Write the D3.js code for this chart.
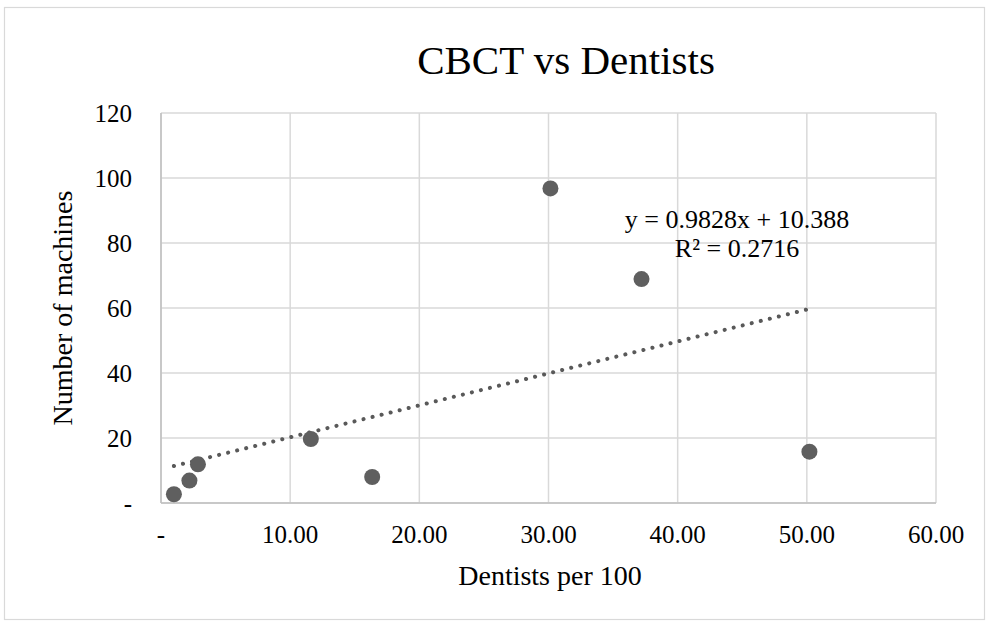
<!DOCTYPE html>
<html>
<head>
<meta charset="utf-8">
<script src="https://cdn.jsdelivr.net/npm/d3@7"></script>
<style>
  html, body { margin: 0; padding: 0; background: #fff; }
  svg { display: block; font-family: "Liberation Serif", "Times New Roman", serif; }
</style>
</head>
<body>
<svg id="chart" width="990" height="624"></svg>
<script>
// Dentists per 100 vs number of CBCT machines
const dentists = [1.0, 2.2, 2.86, 11.6, 16.35, 30.15, 37.2, 50.2];
const machines = [2.7, 6.9, 11.9, 19.7, 8.0, 96.8, 68.9, 15.8];
const xTicks = [0, 10, 20, 30, 40, 50, 60];
const yTicks = [0, 20, 40, 60, 80, 100, 120];
const trendSlope = 0.9828;
const trendIntercept = 10.388;
const rSquared = 0.2716;

const svg = d3.select("#chart");
const W = 990, H = 624;
const margin = { left: 161, right: 54, top: 113, bottom: 121 };
const pw = W - margin.left - margin.right;
const ph = H - margin.top - margin.bottom;

// outer chart frame
svg.append("rect")
  .attr("x", 4.5).attr("y", 7.5).attr("width", 980).attr("height", 612)
  .attr("fill", "#fff").attr("stroke", "#d9d9d9").attr("stroke-width", 1.2);

const x = d3.scaleLinear().domain([0, 60]).range([margin.left, margin.left + pw]);
const y = d3.scaleLinear().domain([0, 120]).range([margin.top + ph, margin.top]);

const g = svg.append("g");

// gridlines
g.selectAll(".vgrid").data(xTicks).join("line")
  .attr("x1", d => x(d)).attr("x2", d => x(d))
  .attr("y1", y(0)).attr("y2", y(120))
  .attr("stroke", "#d9d9d9").attr("stroke-width", 1.5);
g.selectAll(".hgrid").data(yTicks).join("line")
  .attr("x1", x(0)).attr("x2", x(60))
  .attr("y1", d => y(d)).attr("y2", d => y(d))
  .attr("stroke", "#d9d9d9").attr("stroke-width", 1.5);

// axis lines
g.append("line").attr("x1", x(0)).attr("x2", x(60)).attr("y1", y(0)).attr("y2", y(0))
  .attr("stroke", "#bfbfbf").attr("stroke-width", 1.5);
g.append("line").attr("x1", x(0)).attr("x2", x(0)).attr("y1", y(0)).attr("y2", y(120))
  .attr("stroke", "#bfbfbf").attr("stroke-width", 1.5);

// tick labels
const fmtX = d => d === 0 ? "-" : d.toFixed(2);
const fmtY = d => d === 0 ? "-" : String(d);
svg.selectAll(".xlab").data(xTicks).join("text")
  .attr("x", d => x(d)).attr("y", y(0) + 40)
  .attr("text-anchor", "middle").attr("font-size", 25).attr("fill", "#000")
  .text(fmtX);
svg.selectAll(".ylab").data(yTicks).join("text")
  .attr("x", x(0) - 29).attr("y", d => y(d) + 8.5)
  .attr("text-anchor", "end").attr("font-size", 25).attr("fill", "#000")
  .text(fmtY);

// trendline across the data range
const xr = d3.extent(dentists);
g.append("line")
  .attr("x1", x(xr[0])).attr("y1", y(trendSlope * xr[0] + trendIntercept))
  .attr("x2", x(xr[1])).attr("y2", y(trendSlope * xr[1] + trendIntercept))
  .attr("stroke", "#595959").attr("stroke-width", 4)
  .attr("stroke-linecap", "round").attr("stroke-dasharray", "0.1 9.2");

// markers
g.selectAll(".pt").data(dentists).join("circle")
  .attr("cx", d => x(d)).attr("cy", (d, i) => y(machines[i]))
  .attr("r", 8).attr("fill", "#5f5f5f");

// trend equation
svg.append("text").attr("x", 737).attr("y", 228)
  .attr("text-anchor", "middle").attr("font-size", 26).attr("fill", "#000")
  .text(`y = ${trendSlope}x + ${trendIntercept}`);
svg.append("text").attr("x", 737).attr("y", 257)
  .attr("text-anchor", "middle").attr("font-size", 26).attr("fill", "#000")
  .text(`R² = ${rSquared}`);

// titles
svg.append("text").attr("x", 566).attr("y", 74)
  .attr("text-anchor", "middle").attr("font-size", 41).attr("fill", "#000")
  .text("CBCT vs Dentists");
svg.append("text").attr("x", 550).attr("y", 585)
  .attr("text-anchor", "middle").attr("font-size", 28).attr("fill", "#000")
  .text("Dentists per 100");
svg.append("text")
  .attr("transform", `translate(72, ${(y(0) + y(120)) / 2}) rotate(-90)`)
  .attr("text-anchor", "middle").attr("font-size", 28).attr("fill", "#000")
  .text("Number of machines");
</script>
</body>
</html>
